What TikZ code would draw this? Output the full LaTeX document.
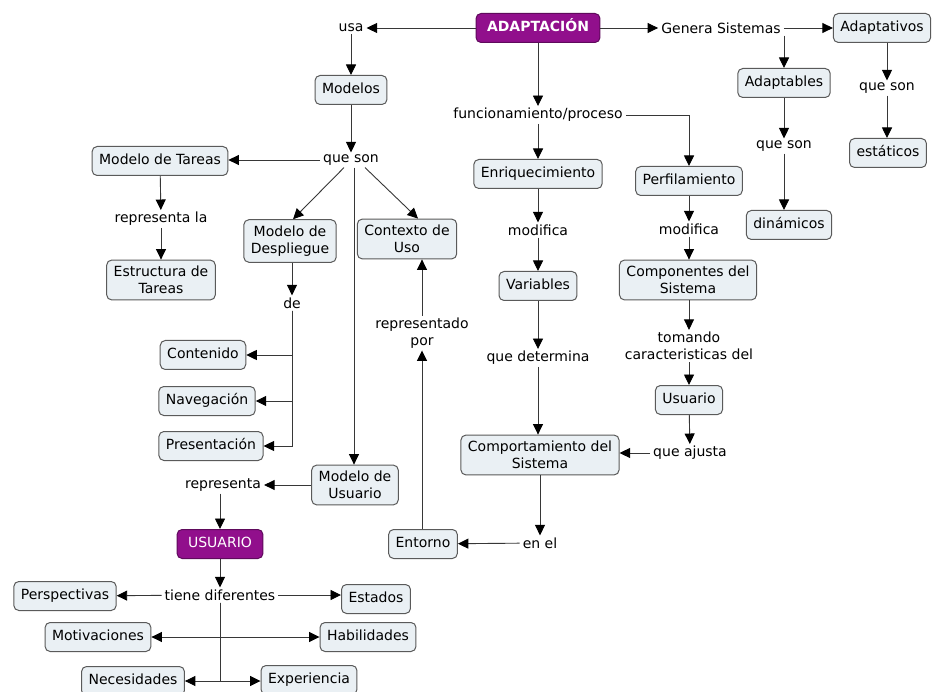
\documentclass[tikz,border=0pt]{standalone}
\usepackage{fontspec}
\setmainfont{DejaVu Sans}
\usetikzlibrary{arrows.meta}

\definecolor{boxfill}{RGB}{234,240,244}
\definecolor{boxline}{RGB}{90,90,90}
\definecolor{keyfill}{RGB}{145,15,140}
\definecolor{keyline}{RGB}{95,10,92}
\definecolor{wire}{RGB}{55,55,55}

\tikzset{
  txt/.style={font=\fontsize{14}{17}\selectfont},
  base/.style={txt, rounded corners=5pt, draw=boxline, line width=1pt, fill=boxfill, inner xsep=7pt},
  concept/.style={base, minimum height=29pt, text height=10.5pt, text depth=3.5pt, inner ysep=0pt},
  concepttwo/.style={base, align=center, inner ysep=6pt},
  keyconcept/.style={concept, fill=keyfill, draw=keyline, text=white},
  linkph/.style={txt, inner xsep=3pt, inner ysep=2pt, align=center},
  wireline/.style={draw=wire, line width=0.9pt},
  arr/.style={wireline, -{Triangle[length=10.5pt,width=10pt,color=black]}},
}

\begin{document}
\begin{tikzpicture}[x=1pt,y=-1pt]
\clip (0,0) rectangle (934,692);
\fill[white] (0,0) rectangle (934,692);

% ---- top row ----
\node[keyconcept, font=\fontsize{14}{17}\selectfont\bfseries, inner xsep=11pt] (adapt) at (538,28) {ADAPTACIÓN};
\node[linkph] (usa) at (351,28) {usa};
\node[linkph] (gen) at (721,28) {Genera Sistemas};
\node[concept] (adaptativos) at (882,28) {Adaptativos};
\node[concept] (adaptables) at (784,83) {Adaptables};
\node[linkph] (queson1) at (784,146) {que son};
\node[concept] (dinamicos) at (789,225) {dinámicos};
\node[linkph] (queson2) at (887,88) {que son};
\node[concept] (estaticos) at (888,153) {estáticos};

% ---- models branch ----
\node[concept] (modelos) at (351,90) {Modelos};
\node[linkph] (queson) at (351,160) {que son};
\node[concept] (tareas) at (160,161) {Modelo de Tareas};
\node[linkph] (replab) at (161,219) {representa la};
\node[concepttwo] (estructura) at (161,280) {Estructura de\\Tareas};
\node[concepttwo] (despliegue) at (290,241) {Modelo de\\Despliegue};
\node[concepttwo] (contexto) at (407,239) {Contexto de\\Uso};
\node[linkph] (de) at (292,303) {de};
\node[concept] (contenido) at (203,355) {Contenido};
\node[concept] (navegacion) at (207,401) {Navegación};
\node[concept] (presentacion) at (211,446) {Presentación};
\node[concepttwo] (musuario) at (355,485) {Modelo de\\Usuario};
\node[linkph] (representa) at (223,485) {representa};
\node[keyconcept, inner xsep=11pt] (usuariok) at (220,544) {USUARIO};
\node[linkph] (tiene) at (220,595) {tiene diferentes};
\node[concept] (perspectivas) at (65,596) {Perspectivas};
\node[concept] (estados) at (376,599) {Estados};
\node[concept] (motivaciones) at (98,637) {Motivaciones};
\node[concept] (habilidades) at (368,637) {Habilidades};
\node[concept] (necesidades) at (133,681) {Necesidades};
\node[concept] (experiencia) at (309,680) {Experiencia};

% ---- process branch ----
\node[linkph] (func) at (538,115) {funcionamiento/proceso};
\node[concept] (enriq) at (538,174) {Enriquecimiento};
\node[linkph] (modA) at (538,230) {modifica};
\node[concept] (variables) at (538,286) {Variables};
\node[linkph] (determina) at (538,358) {que determina};
\node[concepttwo] (comport) at (540,455) {Comportamiento del\\Sistema};
\node[concept] (perfil) at (689,181) {Perfilamiento};
\node[linkph] (modB) at (689,229) {modifica};
\node[concepttwo] (componentes) at (688,280) {Componentes del\\Sistema};
\node[linkph] (tomando) at (689,346) {tomando\\caracteristicas del};
\node[concept] (usuario) at (689,400) {Usuario};
\node[linkph] (ajusta) at (690,453) {que ajusta};
\node[linkph] (enel) at (540,543) {en el};
\node[concept] (entorno) at (423,544) {Entorno};
\node[linkph] (representado) at (422,333) {representado\\por};

% ---- connectors: top row ----
\draw[arr] (adapt) -- (usa);
\draw[arr] (usa) -- (modelos);
\draw[arr] (adapt) -- (gen);
\draw[arr] (gen) -- (gen -| adaptativos.west);
\draw[arr] (gen.south -| adaptables.north) -- (adaptables.north);
\draw[arr] (adaptables) -- (queson1);
\draw[arr] (queson1) -- (queson1 |- dinamicos.north);
\draw[arr] (adaptativos.south -| queson2) -- (queson2);
\draw[arr] (queson2) -- (queson2 |- estaticos.north);

% ---- connectors: models ----
\draw[arr] (modelos) -- (queson);
\draw[arr] (queson.west) -- (queson.west -| tareas.east);
\draw[arr] ([xshift=-7pt]queson.south) -- ([xshift=3pt]despliegue.north);
\draw[arr] ([xshift=14pt]queson.south) -- ([xshift=11pt]contexto.north);
\draw[arr] ([xshift=3pt]queson.south) -- ([xshift=3pt]queson.south |- musuario.north);
\draw[arr] (tareas) -- (replab);
\draw[arr] (replab) -- (replab |- estructura.north);
\draw[arr] (despliegue.south -| de) -- (de);
\draw[arr] (de.south) |- (contenido.east);
\draw[arr] (de.south) |- (navegacion.east);
\draw[arr] (de.south) |- (presentacion.east);
\draw[arr] (musuario) -- (representa);
\draw[arr] (representa.south -| usuariok) -- (usuariok);
\draw[arr] (usuariok) -- (tiene);
\draw[arr] (tiene) -- (perspectivas);
\draw[arr] (tiene.east) -- (tiene.east -| estados.west);
\draw[arr] (tiene.south) |- (motivaciones.east);
\draw[arr] (tiene.south) |- (habilidades.west);
\draw[arr] (tiene.south) |- (necesidades.east);
\draw[arr] (tiene.south |- necesidades.east) -- (necesidades.east -| experiencia.west);

% ---- connectors: process ----
\draw[arr] (adapt) -- (func);
\draw[arr] (func) -- (enriq);
\draw[arr] (func.east) -| (perfil.north);
\draw[arr] (enriq) -- (modA);
\draw[arr] (modA) -- (variables);
\draw[arr] (variables) -- (determina);
\draw[arr] (determina) -- (determina |- comport.north);
\draw[arr] (perfil) -- (modB);
\draw[arr] (modB) -- (modB |- componentes.north);
\draw[arr] (componentes.south -| tomando) -- (tomando);
\draw[arr] (tomando) -- (usuario);
\draw[arr] (usuario) -- (ajusta);
\draw[arr] (ajusta) -- (ajusta -| comport.east);
\draw[arr] (comport.south -| enel) -- (enel);
\draw[arr] (enel) -- (entorno);
\draw[arr] (entorno.north -| representado) -- (representado);
\draw[arr] (representado) -- (representado |- contexto.south);
\end{tikzpicture}
\end{document}
